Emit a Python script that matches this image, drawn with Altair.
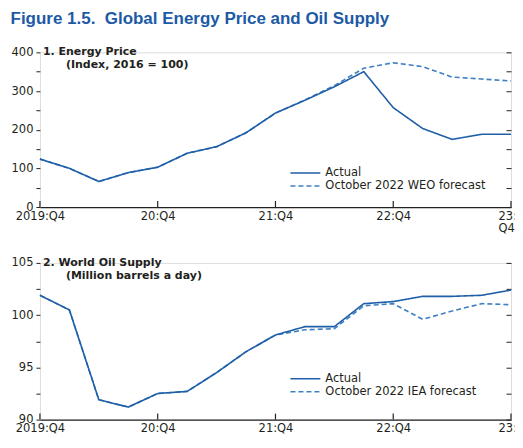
import altair as alt
import pandas as pd

# ---------------- data ----------------
quarters = ["2019:Q4", "20:Q1", "20:Q2", "20:Q3", "20:Q4", "21:Q1", "21:Q2", "21:Q3",
            "21:Q4", "22:Q1", "22:Q2", "22:Q3", "22:Q4", "23:Q1", "23:Q2", "23:Q3", "23:Q4"]
tick_quarters = ["2019:Q4", "20:Q4", "21:Q4", "22:Q4", "23:Q4"]

price_actual = [124, 100, 66, 89, 103, 139, 156, 192, 243, 276, 311, 350, 257, 203, 175, 188, 188]
price_forecast = [124, 100, 66, 89, 103, 139, 156, 192, 243, 277, 314, 359, 373, 363, 336, 331, 326]

oil_actual = [101.9, 100.5, 91.9, 91.2, 92.5, 92.7, 94.5, 96.5, 98.1, 98.9, 98.9,
              101.1, 101.3, 101.8, 101.8, 101.9, 102.4]
oil_forecast = [101.9, 100.5, 91.9, 91.2, 92.5, 92.7, 94.5, 96.5, 98.1, 98.6, 98.7,
                100.9, 101.1, 99.6, 100.4, 101.1, 101.0]

price_ticks = [0, 50, 100, 150, 200, 250, 300, 350, 400]
oil_ticks = [90, 92.5, 95, 97.5, 100, 102.5, 105]

fig_title = "Figure 1.5.\u00a0 Global Energy Price and Oil Supply"
FONT = "DejaVu Sans"
TXT = "#231f20"
C_ACT = "#1f5fa8"
C_FC = "#3f80c4"
W = 472
FS = 11.5


def panel(actual, forecast, fc_name, ticks, major, h, line1, line2, leg_y):
    names = ["Actual", fc_name]
    df = pd.DataFrame({
        "quarter": quarters * 2,
        "value": actual + forecast,
        "series": [names[0]] * len(quarters) + [names[1]] * len(quarters),
    })
    xs = alt.Scale(type="point", domain=quarters, padding=0)
    ys = alt.Scale(domain=[ticks[0], ticks[-1]], nice=False, zero=False)
    x_enc = alt.X("quarter:O", scale=xs, title=None,
                  axis=alt.Axis(values=tick_quarters, labelAngle=0, tickSize=0,
                                domain=True, domainColor="#222", domainWidth=1.2,
                                labelFont=FONT, labelFontSize=FS, labelColor=TXT,
                                labelPadding=3, labelLineHeight=13, labelBound=False,
                                labelFlush=False,
                                labelExpr="datum.label == '23:Q4' ? ['23:', 'Q4'] : datum.label",
                                labelAlign=alt.expr("datum.label == '23:Q4' ? 'left' : 'center'"),
                                labelOffset=alt.expr("datum.label == '23:Q4' ? -13 : 0"),
                                grid=False))
    color = alt.Color("series:N", scale=alt.Scale(domain=names, range=[C_ACT, C_FC]),
                      legend=alt.Legend(orient="none", legendX=leg_x, legendY=leg_y, title=None,
                                        symbolType="M-3,0H3", symbolSize=100,
                                        symbolStrokeWidth=1.5, labelFont=FONT,
                                        labelFontSize=FS, labelColor=TXT, labelOffset=14,
                                        labelLimit=400, rowPadding=1, padding=0))
    dash = alt.StrokeDash("series:N", scale=alt.Scale(domain=names, range=[[1, 0], [5, 3]]),
                          legend=None)

    fc = alt.Chart(df).transform_filter(alt.datum.series == names[1]).mark_line(
        strokeWidth=1.6).encode(
        x=x_enc,
        y=alt.Y("value:Q", scale=ys, title=None,
                axis=alt.Axis(values=ticks, orient="left", tickSize=4, tickColor="#222",
                              domain=False, grid=False, labelFont=FONT, labelFontSize=FS,
                              labelColor=TXT, labelPadding=3,
                              labelExpr=f"datum.value % {major} == 0 ? datum.label : ''")),
        color=color, strokeDash=dash)
    act = alt.Chart(df).transform_filter(alt.datum.series == names[0]).mark_line(
        strokeWidth=1.6).encode(
        x=alt.X("quarter:O", scale=xs),
        y=alt.Y("value:Q", scale=ys, title=None,
                axis=alt.Axis(values=ticks, orient="right", tickSize=5, tickColor="#222",
                              offset=-5, domain=False, grid=False, labels=False)),
        color=color, strokeDash=dash)
    tdf = pd.DataFrame({"quarter": tick_quarters})
    xt = alt.Chart(tdf).mark_rule(color="#222", strokeWidth=1.2).encode(
        x=alt.X("quarter:O", scale=xs),
        y=alt.value(h), y2=alt.value(h - 6))
    t1 = alt.Chart(pd.DataFrame({"t": [line1]})).mark_text(
        align="left", baseline="middle", font=FONT, fontSize=11, fontWeight="bold",
        color=TXT).encode(text="t:N", x=alt.value(3), y=alt.value(0))
    t2 = alt.Chart(pd.DataFrame({"t": [line2]})).mark_text(
        align="left", baseline="middle", font=FONT, fontSize=11, fontWeight="bold",
        color=TXT).encode(text="t:N", x=alt.value(26), y=alt.value(13))
    return alt.layer(fc, act, xt, t1, t2).resolve_axis(y="independent").properties(
        width=W, height=h)


leg_x = 260
top = panel(price_actual, price_forecast, "October 2022 WEO forecast", price_ticks, 100, 155,
            "1. Energy Price", "(Index, 2016 = 100)", 115)
bottom = panel(oil_actual, oil_forecast, "October 2022 IEA forecast", oil_ticks, 5, 157,
               "2. World Oil Supply", "(Million barrels a day)", 110)

chart = alt.vconcat(top, bottom, spacing=21).resolve_scale(
    color="independent", strokeDash="independent").properties(
    title=alt.Title(fig_title, anchor="start", font="Liberation Sans", fontSize=17,
                    fontWeight="bold", color="#1c5aa6", offset=18, frame="bounds"),
    padding={"left": 2, "top": 1, "right": -3, "bottom": -12}
).configure_view(stroke=None).configure(background="white")

chart.save("out.html", embed_options={"renderer": "svg", "actions": False})
